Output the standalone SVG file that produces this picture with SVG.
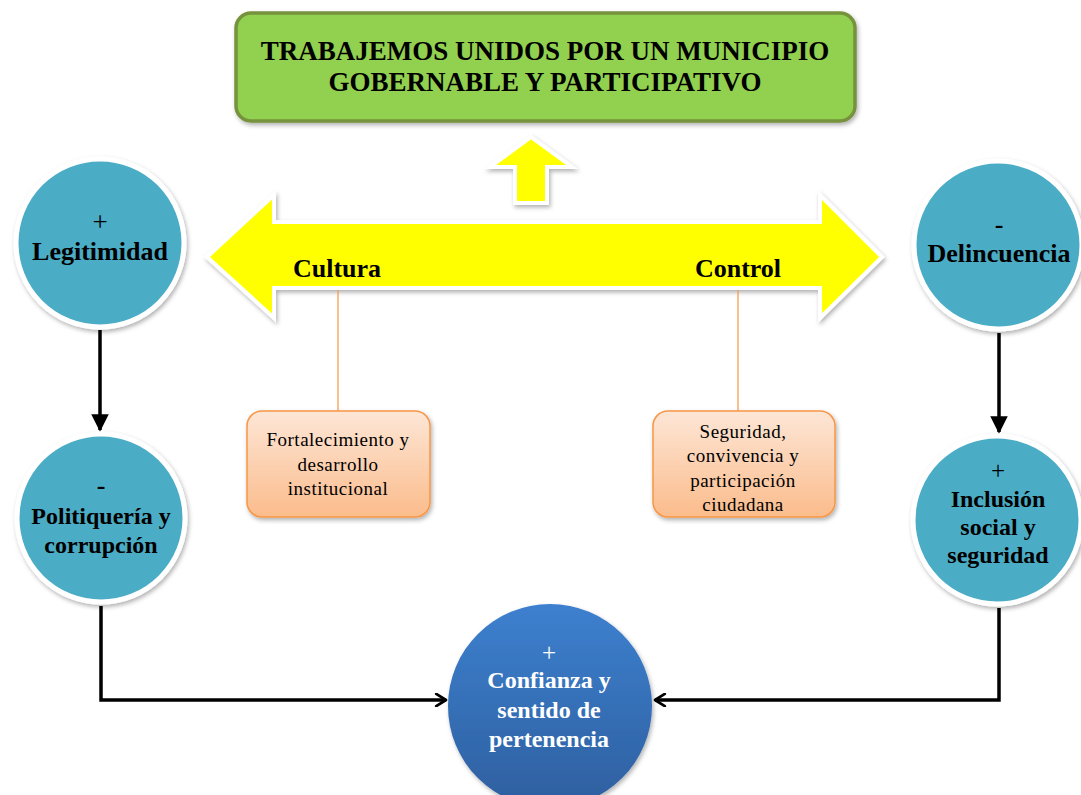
<svg xmlns="http://www.w3.org/2000/svg" width="1081" height="795" viewBox="0 0 1081 795">
<style>
.bold{font-family:"Liberation Serif","Times New Roman",serif;font-weight:bold;fill:#000;text-anchor:middle}
.reg{font-family:"Liberation Serif","Times New Roman",serif;fill:#000;text-anchor:middle}
.teal{fill:#4bacc6;stroke:#fff;stroke-width:5}
.obox{stroke:#f79646;stroke-width:1.5;fill:url(#og)}
.conn{stroke:#000;stroke-width:3.5;fill:none}
.yel{fill:#ffff00;stroke:#fff;stroke-width:4;stroke-linejoin:miter}
.wt{fill:#fff}
</style>
<defs>
<filter id="sh" x="-10%" y="-10%" width="125%" height="125%">
<feDropShadow dx="1.5" dy="2.5" stdDeviation="2" flood-color="#000" flood-opacity="0.3"/>
</filter>
<linearGradient id="og" x1="0" y1="0" x2="0" y2="1">
<stop offset="0" stop-color="#fde6d6"/>
<stop offset="1" stop-color="#fbbc8c"/>
</linearGradient>
<linearGradient id="bg" x1="0" y1="0" x2="0" y2="1">
<stop offset="0" stop-color="#3d80cf"/>
<stop offset="1" stop-color="#2e5f9f"/>
</linearGradient>
<marker id="tri" viewBox="0 0 10 10" refX="9" refY="5" markerWidth="5" markerHeight="5" orient="auto" markerUnits="strokeWidth">
<path d="M0,0 L10,5 L0,10 Z" fill="#000"/>
</marker>
<marker id="chev" viewBox="0 0 12 12" refX="10" refY="6" markerWidth="4.2" markerHeight="4.2" orient="auto" markerUnits="strokeWidth">
<path d="M2,1 L10,6 L2,11" fill="none" stroke="#000" stroke-width="2.2" stroke-linecap="round" stroke-linejoin="round"/>
</marker>
</defs>
<rect width="1081" height="795" fill="#fff"/>

<g id="title">
<rect x="236" y="13" width="619" height="108" rx="15" fill="#92d050" stroke="#76923c" stroke-width="3.5" filter="url(#sh)"/>
<text class="bold" x="545" y="60" font-size="27">TRABAJEMOS UNIDOS POR UN MUNICIPIO</text>
<text class="bold" x="545" y="91" font-size="27">GOBERNABLE Y PARTICIPATIVO</text>
</g>

<g id="up-arrow">
<path class="yel" filter="url(#sh)" d="M531,137 L572,167 L547,167 L547,203 L515,203 L515,167 L490,167 Z"/>
</g>

<g id="double-arrow">
<path class="yel" filter="url(#sh)" d="M207,257 L274,195 L274,222 L820,222 L820,195 L882,257 L820,318 L820,288 L274,288 L274,318 Z"/>
<text class="bold" x="337" y="277" font-size="26">Cultura</text>
<text class="bold" x="738" y="277" font-size="26">Control</text>
</g>

<g id="connectors">
<line x1="338" y1="290" x2="338" y2="411" stroke="#f79646" stroke-width="1.2"/>
<line x1="738" y1="290" x2="738" y2="411" stroke="#f79646" stroke-width="1.2"/>
<line class="conn" x1="100" y1="330" x2="100" y2="430" marker-end="url(#tri)"/>
<line class="conn" x1="999" y1="333" x2="999" y2="432" marker-end="url(#tri)"/>
<path class="conn" d="M101,606 L101,700 L446,700" marker-end="url(#chev)"/>
<path class="conn" d="M999,608 L999,700 L655,700" marker-end="url(#chev)"/>
</g>

<g id="legitimidad">
<circle class="teal" cx="100" cy="243" r="84" filter="url(#sh)"/>
<text class="reg" x="100" y="231" font-size="27">+</text>
<text class="bold" x="100" y="260" font-size="26">Legitimidad</text>
</g>

<g id="delincuencia">
<circle class="teal" cx="998" cy="245" r="84" filter="url(#sh)"/>
<text class="bold" x="999" y="233" font-size="26">-</text>
<text class="bold" x="999" y="262" font-size="26">Delincuencia</text>
</g>

<g id="politiqueria">
<circle class="teal" cx="101" cy="518" r="84" filter="url(#sh)"/>
<text class="bold" x="101" y="494" font-size="26">-</text>
<text class="bold" x="101" y="524" font-size="24">Politiquería y</text>
<text class="bold" x="101" y="553" font-size="24">corrupción</text>
</g>

<g id="inclusion">
<circle class="teal" cx="997" cy="520" r="84" filter="url(#sh)"/>
<text class="reg" x="998" y="479" font-size="25">+</text>
<text class="bold" x="998" y="507" font-size="24">Inclusión</text>
<text class="bold" x="998" y="535" font-size="24">social y</text>
<text class="bold" x="998" y="563" font-size="24">seguridad</text>
</g>

<g id="confianza">
<circle cx="550" cy="706" r="102" fill="url(#bg)" filter="url(#sh)"/>
<text class="reg wt" x="549" y="661" font-size="25">+</text>
<text class="bold wt" x="549" y="688" font-size="24">Confianza y</text>
<text class="bold wt" x="549" y="718" font-size="24">sentido de</text>
<text class="bold wt" x="549" y="747" font-size="24">pertenencia</text>
</g>

<g id="fortalecimiento">
<rect class="obox" x="247" y="411" width="183" height="106" rx="15" filter="url(#sh)"/>
<text class="reg" x="338" y="446" font-size="19" letter-spacing="0.5">Fortalecimiento y</text>
<text class="reg" x="338" y="471" font-size="19" letter-spacing="0.5">desarrollo</text>
<text class="reg" x="338" y="495" font-size="19" letter-spacing="0.5">institucional</text>
</g>

<g id="seguridad">
<rect class="obox" x="653" y="411" width="182" height="106" rx="15" filter="url(#sh)"/>
<text class="reg" x="743" y="438" font-size="19" letter-spacing="0.5">Seguridad,</text>
<text class="reg" x="743" y="462" font-size="19" letter-spacing="0.5">convivencia y</text>
<text class="reg" x="743" y="487" font-size="19" letter-spacing="0.5">participación</text>
<text class="reg" x="743" y="511" font-size="19" letter-spacing="0.5">ciudadana</text>
</g>
</svg>
